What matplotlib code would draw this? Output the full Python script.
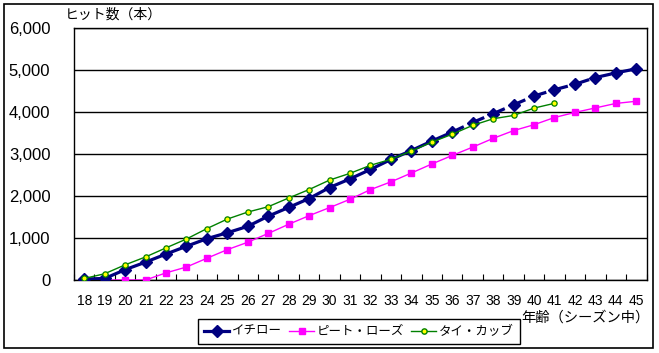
import numpy as np
import matplotlib.pyplot as plt
from matplotlib.patches import Rectangle
from matplotlib.lines import Line2D

plt.rcParams['font.family'] = ['Liberation Sans', 'Noto Sans CJK JP', 'DejaVu Sans']

ages = list(range(18, 46))

# イチロー: actual through age 36, projection (dashed) afterwards
ichiro = [24, 36, 246, 425, 618, 803, 984, 1125, 1278, 1520, 1728, 1940, 2202,
          2408, 2632, 2870, 3083, 3308, 3522,
          3750, 3960, 4170, 4380, 4530, 4660, 4820, 4930, 5030]
ichiro_last_actual = 36

rose = [0, 0, 0, 0, 170, 309, 518, 723, 899, 1109, 1327, 1532, 1724, 1922,
        2152, 2337, 2547, 2762, 2966, 3164, 3372, 3557, 3697, 3869, 3990,
        4097, 4204, 4256]

cobb_ages = list(range(18, 42))
cobb = [36, 149, 361, 549, 765, 976, 1224, 1451, 1618, 1745, 1953, 2154, 2379,
        2540, 2731, 2874, 3071, 3282, 3471, 3682, 3839, 3918, 4093, 4207]

yticks = [0, 1000, 2000, 3000, 4000, 5000, 6000]

W, H = 659, 353
fig = plt.figure(figsize=(W / 100, H / 100), dpi=100)
fig.patches.append(Rectangle((4 / W, 1 - 348 / H), 649 / W, 344 / H,
                             transform=fig.transFigure, fill=False,
                             edgecolor='black', linewidth=1.2))

ax = fig.add_axes([74 / W, 1 - 280 / H, (646.5 - 74) / W, (280 - 28) / H])

x = np.arange(len(ages))
k = ages.index(ichiro_last_actual)

ax.plot(x[:k + 1], ichiro[:k + 1], color='#000080', linewidth=2.3, zorder=4)
ax.plot(x[k:], ichiro[k:], color='#000080', linewidth=2.3, linestyle=(0, (4, 3)), zorder=4)
ax.plot(x, ichiro, linestyle='none', marker='D', markersize=6, color='#000080', zorder=5)
ax.plot(x, rose, color='#FF00FF', linewidth=1, marker='s', markersize=4, zorder=3)
xc = np.arange(len(cobb_ages))
ax.plot(xc, cobb, color='#008000', linewidth=1, marker='o', markersize=3.8,
        markerfacecolor='#FFFF00', markeredgecolor='#008000', markeredgewidth=0.9, zorder=6)

ax.set_xlim(-0.5, len(ages) - 0.5)
ax.set_ylim(0, 6000)
ax.set_yticks(yticks)
ax.set_yticklabels([f'{v:,}' for v in yticks], fontsize=12)
ax.tick_params(axis='y', length=0, pad=17)
ax.grid(axis='y', color='black', linewidth=1)
ax.set_axisbelow(True)

ax.set_xticks(np.arange(len(ages) + 1) - 0.5)
ax.set_xticklabels([])
ax.tick_params(axis='x', which='major', direction='in', length=4, color='black')
ax.set_xticks(x, minor=True)
ax.set_xticklabels([str(a) for a in ages], minor=True, fontsize=10)
ax.tick_params(axis='x', which='minor', length=0, pad=10)
for s in ax.spines.values():
    s.set_color('black')
    s.set_linewidth(1)

fig.text(65 / W, 1 - 15 / H, 'ヒット数（本）', fontsize=10,
         family=['Noto Sans CJK JP'], va='center', ha='left')
fig.text(650 / W, 1 - 318 / H, '年齢（シーズン中）', fontsize=10.3,
         family=['Noto Sans CJK JP'], va='center', ha='right')

handles = [
    Line2D([], [], color='#000080', linewidth=2.3, marker='D', markersize=6),
    Line2D([], [], color='#FF00FF', linewidth=1, marker='s', markersize=4),
    Line2D([], [], color='#008000', linewidth=1, marker='o', markersize=3.8,
           markerfacecolor='#FFFF00', markeredgecolor='#008000'),
]
leg = fig.legend(handles, ['イチロー', 'ピート・ローズ', 'タイ・カッブ'],
                 loc='center', bbox_to_anchor=(359 / W, 1 - 331.5 / H), ncol=3,
                 prop={'family': ['Noto Sans CJK JP'], 'size': 9},
                 frameon=True, fancybox=False, edgecolor='black', framealpha=1,
                 handlelength=2.0, handletextpad=0.2, columnspacing=0.6,
                 borderpad=0.45, borderaxespad=0)
leg.get_frame().set_linewidth(1)

fig.savefig('out.png', dpi=100)
